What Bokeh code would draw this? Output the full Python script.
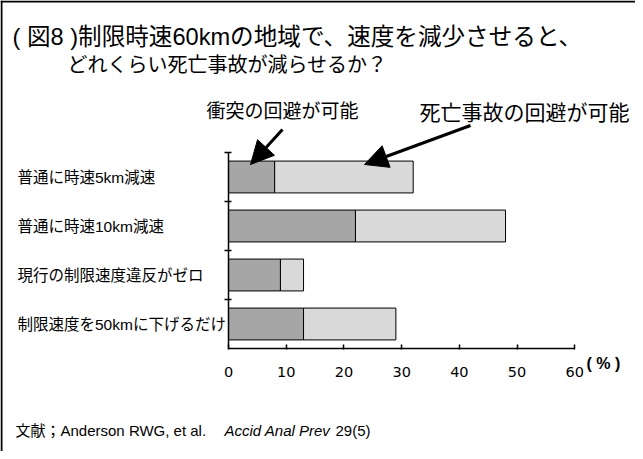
from bokeh.plotting import figure
from bokeh.models import (ColumnDataSource, Range1d, LinearAxis, FixedTicker,
                          Arrow, NormalHead, Span)
from bokeh.core.properties import value
from bokeh.embed import file_html
from bokeh.resources import INLINE

# ---- data ----
categories = ["普通に時速5km減速", "普通に時速10km減速",
              "現行の制限速度違反がゼロ", "制限速度を50kmに下げるだけ"]
collision = [8, 22, 9, 13]          # 衝突の回避が可能
fatal_only = [24, 26, 4, 16]        # 死亡事故の回避が可能 (追加分)
x_ticks = [0, 10, 20, 30, 40, 50, 60]
title1 = "( 図8 )制限時速60kmの地域で、速度を減少させると、"
title2 = "どれくらい死亡事故が減らせるか？"
label_collision = "衝突の回避が可能"
label_fatal = "死亡事故の回避が可能"
unit_label = "( % )"
src_a = "文献；Anderson RWG, et al."
src_b = "Accid Anal Prev"
src_c = "29(5)"

# ---- layout helpers (page pixel -> data) ----
W, H = 635, 451
X0PX, X60PX = 236.0, 582.3
YTOP, YBOT = 160.0, 356.0
n = len(categories)
sx = (X60PX - X0PX) / 60.0
sy = (YBOT - YTOP) / n


def px2x(px):
    return (px - X0PX) / sx


def px2y(py):
    return (n + 0.5) - (py - YTOP) / sy


ypos = list(range(n, 0, -1))
source = ColumnDataSource(dict(y=ypos, cat=categories,
                               collision=collision, fatal_only=fatal_only))

p = figure(width=W, height=H, output_backend="svg", toolbar_location=None,
           x_range=Range1d(px2x(8), px2x(8 + W)),
           y_range=Range1d(px2y(8 + H), px2y(8)),
           x_axis_type=None, y_axis_type=None, min_border=0)
p.outline_line_color = None
p.background_fill_color = "white"
p.border_fill_color = "white"

CJK = "Liberation Sans, Noto Sans CJK JP"

# frame lines
p.add_layout(Span(location=px2x(9), dimension="height", line_color="black", line_width=2))
p.add_layout(Span(location=px2y(9), dimension="width", line_color="black", line_width=2))

# bars
p.hbar_stack(["collision", "fatal_only"], y="y", height=0.65, source=source,
             fill_color=["#a6a6a6", "#d9d9d9"], line_color="black", line_width=1)

# axes
xaxis = LinearAxis(fixed_location=0.5, ticker=FixedTicker(ticks=x_ticks), bounds=(0, 60))
xaxis.axis_line_width = 1.5
xaxis.major_tick_line_width = 1.5
xaxis.major_tick_in = 4
xaxis.major_tick_out = 1
xaxis.minor_tick_line_color = None
xaxis.major_label_standoff = 17
xaxis.major_label_text_font = "DejaVu Sans"
xaxis.major_label_text_font_size = "14.5px"
xaxis.major_label_text_color = "black"
p.add_layout(xaxis, "below")

yaxis = LinearAxis(fixed_location=0, bounds=(0.5, n + 0.5),
                   ticker=FixedTicker(ticks=[k + 0.5 for k in range(1, n + 1)]))
yaxis.axis_line_width = 1.5
yaxis.major_tick_line_width = 1.5
yaxis.major_tick_in = 3
yaxis.major_tick_out = 4
yaxis.minor_tick_line_color = None
yaxis.major_label_overrides = {k + 0.5: "" for k in range(1, n + 1)}
p.add_layout(yaxis, "left")

# category labels (left aligned)
p.text(x=[px2x(25)] * n, y=ypos, text=categories, text_font=value(CJK),
       text_font_size=value("15.5px"), text_baseline="middle", text_align="left",
       text_color="black")

# titles


def txt(px, py, s, size, style="normal", font=CJK):
    p.text(x=[px2x(px)], y=[px2y(py)], text=[s], text_font=value(font),
           text_font_size=value(size), text_font_style=style,
           text_baseline="middle", text_align="left", text_color="black")


txt(20, 44.5, title1, "23.6px")
txt(75, 72, title2, "20px")
txt(214, 119, label_collision, "19px")
txt(427, 120, label_fatal, "21px")
txt(594, 371, unit_label, "16px", style="bold")
txt(23, 437.5, src_a, "15px")
txt(232, 437.5, src_b, "15px", style="italic")
txt(343, 437.5, src_c, "15px")

# arrows
p.add_layout(Arrow(end=NormalHead(size=23, fill_color="black", line_color="black"),
                   x_start=px2x(290), y_start=px2y(137), x_end=px2x(258), y_end=px2y(172),
                   line_width=3, line_color="black"))
p.add_layout(Arrow(end=NormalHead(size=23, fill_color="black", line_color="black"),
                   x_start=px2x(478), y_start=px2y(133), x_end=px2x(372), y_end=px2y(172),
                   line_width=3, line_color="black"))

open("out.html", "w").write(file_html(p, INLINE))
